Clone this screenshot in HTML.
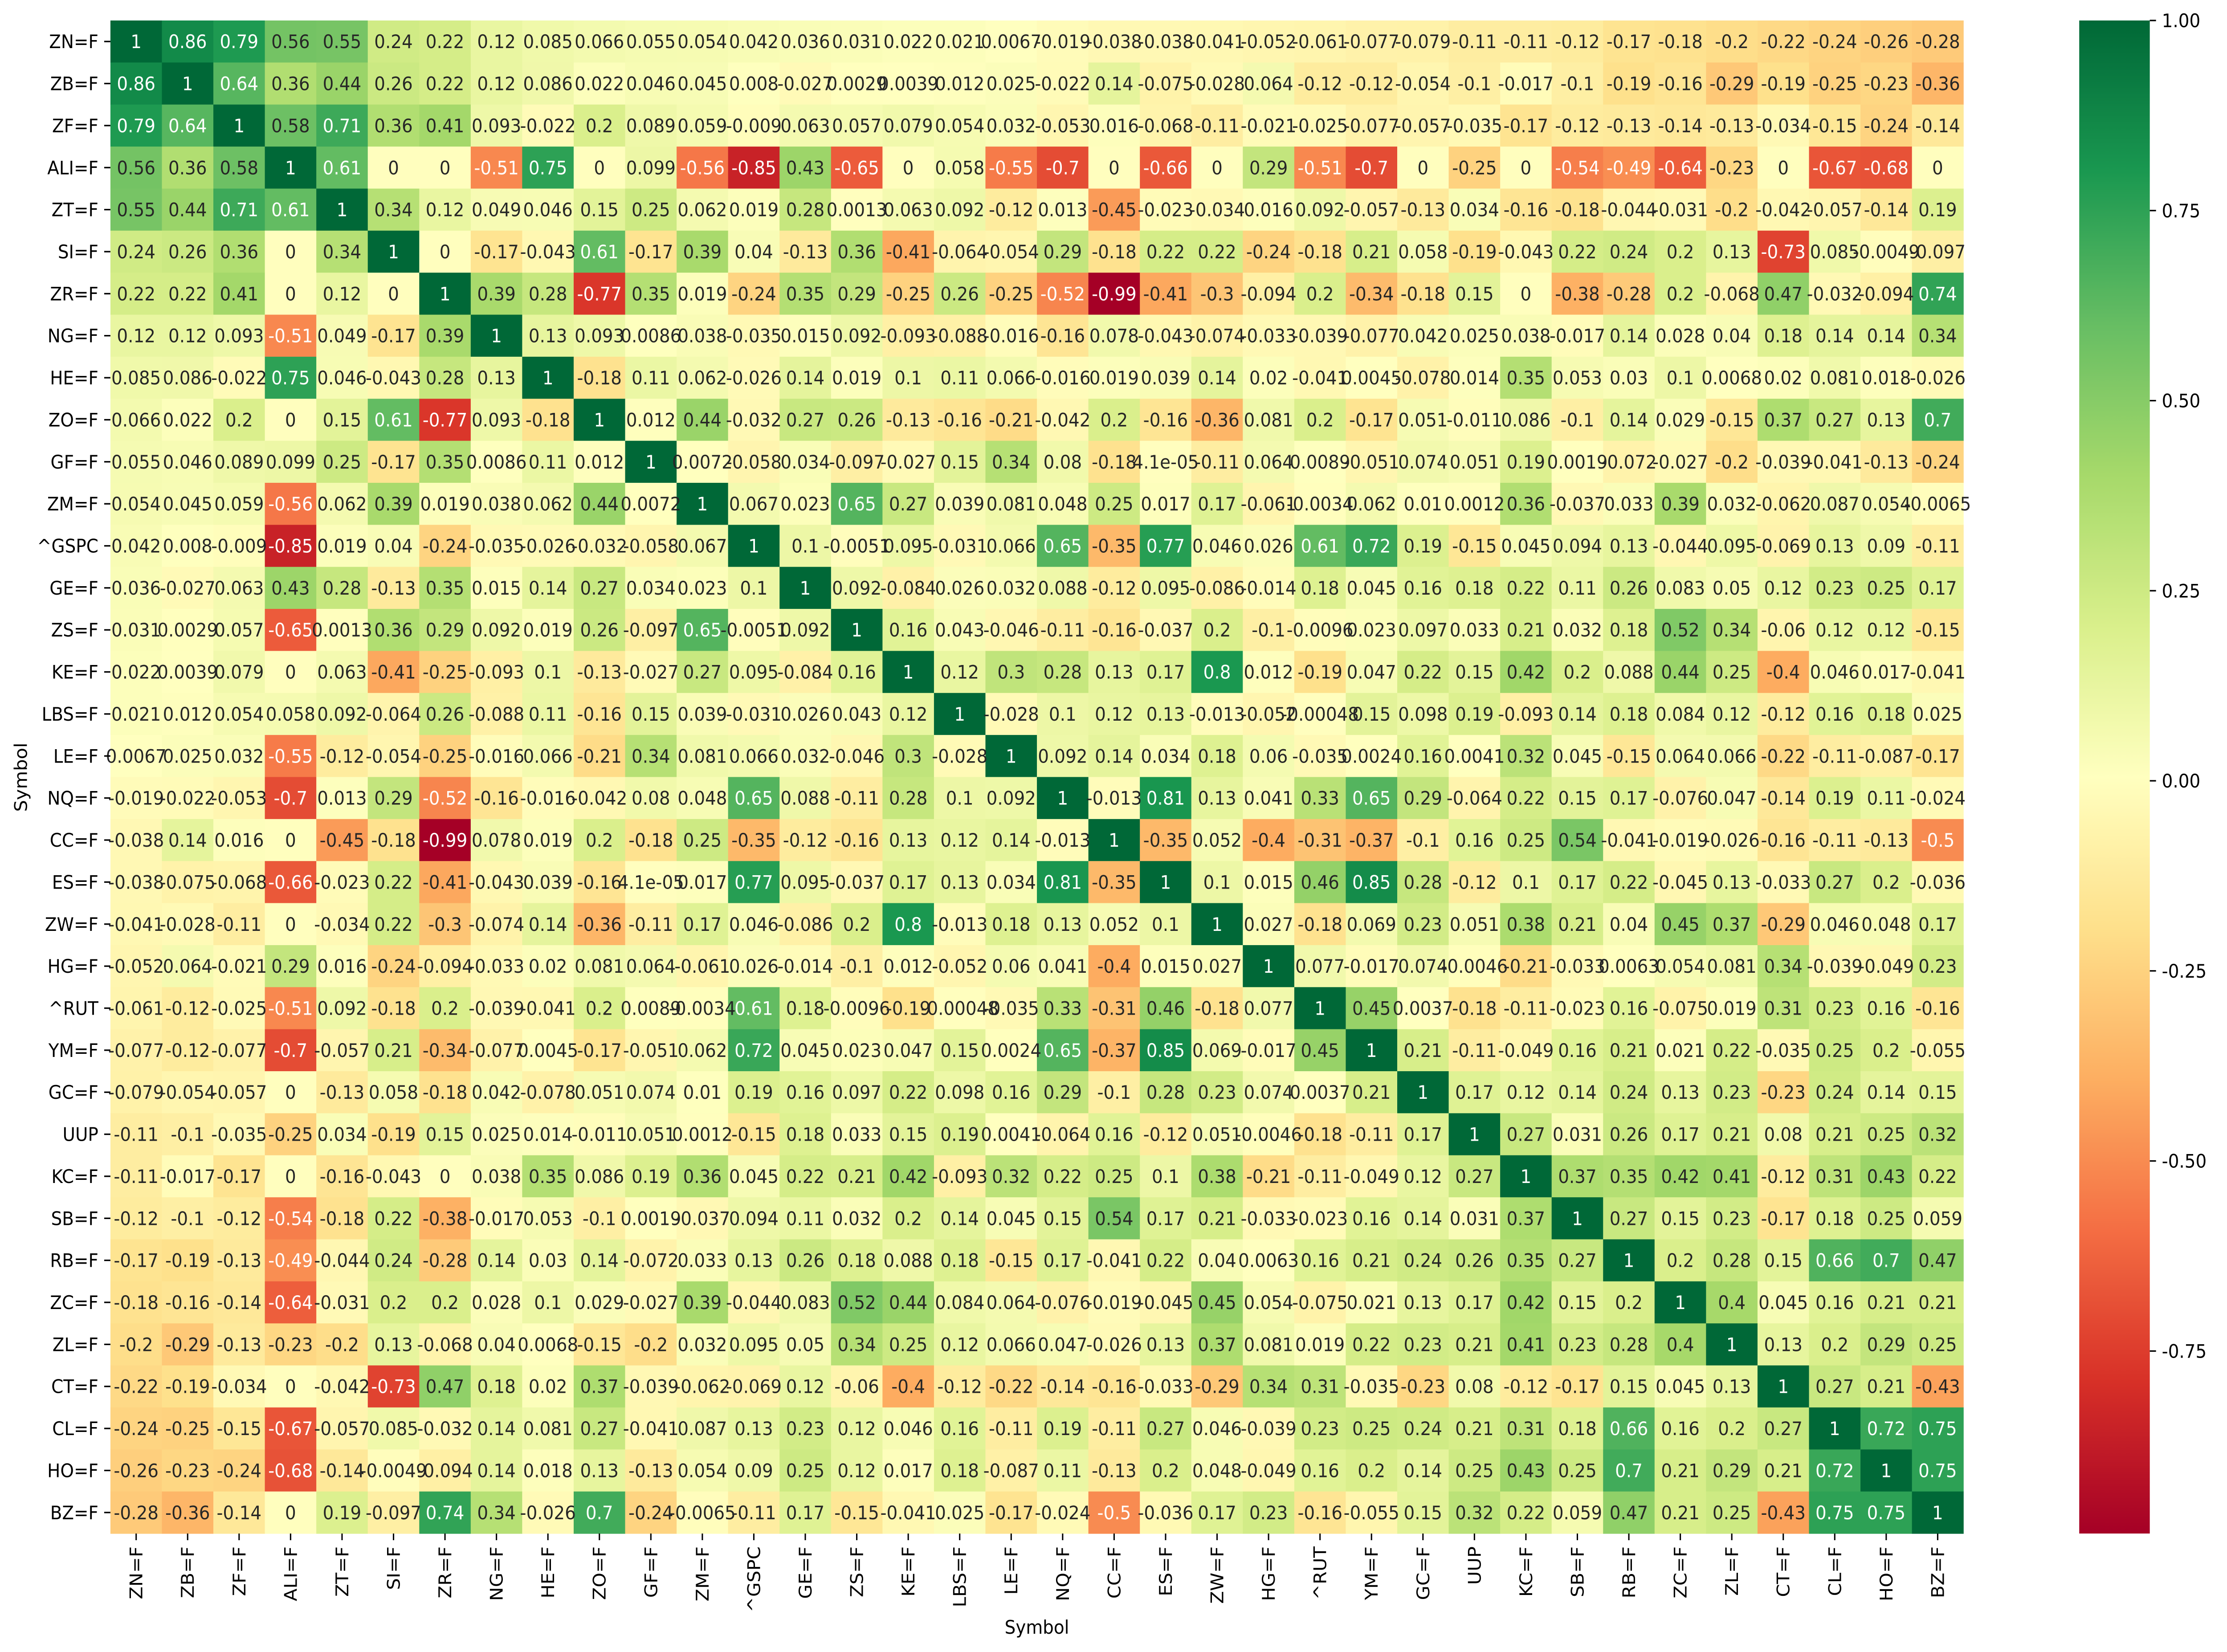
<!DOCTYPE html>
<html><head><meta charset="utf-8">
<style>
html,body{margin:0;padding:0;background:#fff;width:100%;height:100%;overflow:hidden;}
svg{display:block;position:absolute;left:0;top:0;width:100vw;height:100vh;font-family:"DejaVu Sans","Liberation Sans",sans-serif;}
</style></head>
<body>
<svg id="chart" viewBox="0 0 5365 3709" preserveAspectRatio="none" xmlns="http://www.w3.org/2000/svg">
<defs><linearGradient id="cbgrad" x1="0" y1="1" x2="0" y2="0"></linearGradient></defs>
<g id="cells"></g>
<g id="annots"></g>
<g id="yaxis"></g>
<g id="xaxis"></g>
<text x="0" y="0" transform="translate(51,1745) rotate(-90)" text-anchor="middle" dominant-baseline="central" font-size="41.7">Symbol</text>
<text x="2498" y="3668" text-anchor="middle" font-size="41.7">Symbol</text>
<g id="cbar"></g>
</svg>
<script>
const symbols = ["ZN=F","ZB=F","ZF=F","ALI=F","ZT=F","SI=F","ZR=F","NG=F","HE=F","ZO=F","GF=F","ZM=F","^GSPC","GE=F","ZS=F","KE=F","LBS=F","LE=F","NQ=F","CC=F","ES=F","ZW=F","HG=F","^RUT","YM=F","GC=F","UUP","KC=F","SB=F","RB=F","ZC=F","ZL=F","CT=F","CL=F","HO=F","BZ=F"];
// upper triangle rows, starting at the diagonal
const upperRows = [
[1,0.86,0.79,0.56,0.55,0.24,0.22,0.12,0.085,0.066,0.055,0.054,0.042,0.036,0.031,0.022,0.021,0.0067,-0.019,-0.038,-0.038,-0.041,-0.052,-0.061,-0.077,-0.079,-0.11,-0.11,-0.12,-0.17,-0.18,-0.2,-0.22,-0.24,-0.26,-0.28],
[1,0.64,0.36,0.44,0.26,0.22,0.12,0.086,0.022,0.046,0.045,0.008,-0.027,0.0029,0.0039,0.012,0.025,-0.022,0.14,-0.075,-0.028,0.064,-0.12,-0.12,-0.054,-0.1,-0.017,-0.1,-0.19,-0.16,-0.29,-0.19,-0.25,-0.23,-0.36],
[1,0.58,0.71,0.36,0.41,0.093,-0.022,0.2,0.089,0.059,-0.009,0.063,0.057,0.079,0.054,0.032,-0.053,0.016,-0.068,-0.11,-0.021,-0.025,-0.077,-0.057,-0.035,-0.17,-0.12,-0.13,-0.14,-0.13,-0.034,-0.15,-0.24,-0.14],
[1,0.61,0,0,-0.51,0.75,0,0.099,-0.56,-0.85,0.43,-0.65,0,0.058,-0.55,-0.7,0,-0.66,0,0.29,-0.51,-0.7,0,-0.25,0,-0.54,-0.49,-0.64,-0.23,0,-0.67,-0.68,0],
[1,0.34,0.12,0.049,0.046,0.15,0.25,0.062,0.019,0.28,0.0013,0.063,0.092,-0.12,0.013,-0.45,-0.023,-0.034,0.016,0.092,-0.057,-0.13,0.034,-0.16,-0.18,-0.044,-0.031,-0.2,-0.042,-0.057,-0.14,0.19],
[1,0,-0.17,-0.043,0.61,-0.17,0.39,0.04,-0.13,0.36,-0.41,-0.064,-0.054,0.29,-0.18,0.22,0.22,-0.24,-0.18,0.21,0.058,-0.19,-0.043,0.22,0.24,0.2,0.13,-0.73,0.085,-0.0049,-0.097],
[1,0.39,0.28,-0.77,0.35,0.019,-0.24,0.35,0.29,-0.25,0.26,-0.25,-0.52,-0.99,-0.41,-0.3,-0.094,0.2,-0.34,-0.18,0.15,0,-0.38,-0.28,0.2,-0.068,0.47,-0.032,-0.094,0.74],
[1,0.13,0.093,0.0086,0.038,-0.035,0.015,0.092,-0.093,-0.088,-0.016,-0.16,0.078,-0.043,-0.074,-0.033,-0.039,-0.077,0.042,0.025,0.038,-0.017,0.14,0.028,0.04,0.18,0.14,0.14,0.34],
[1,-0.18,0.11,0.062,-0.026,0.14,0.019,0.1,0.11,0.066,-0.016,0.019,0.039,0.14,0.02,-0.041,0.0045,-0.078,0.014,0.35,0.053,0.03,0.1,0.0068,0.02,0.081,0.018,-0.026],
[1,0.012,0.44,-0.032,0.27,0.26,-0.13,-0.16,-0.21,-0.042,0.2,-0.16,-0.36,0.081,0.2,-0.17,0.051,-0.011,0.086,-0.1,0.14,0.029,-0.15,0.37,0.27,0.13,0.7],
[1,0.0072,-0.058,0.034,-0.097,-0.027,0.15,0.34,0.08,-0.18,0.000041,-0.11,0.064,0.0089,-0.051,0.074,0.051,0.19,0.0019,-0.072,-0.027,-0.2,-0.039,-0.041,-0.13,-0.24],
[1,0.067,0.023,0.65,0.27,0.039,0.081,0.048,0.25,0.017,0.17,-0.061,-0.0034,0.062,0.01,0.0012,0.36,-0.037,0.033,0.39,0.032,-0.062,0.087,0.054,-0.0065],
[1,0.1,-0.0051,0.095,-0.031,0.066,0.65,-0.35,0.77,0.046,0.026,0.61,0.72,0.19,-0.15,0.045,0.094,0.13,-0.044,0.095,-0.069,0.13,0.09,-0.11],
[1,0.092,-0.084,0.026,0.032,0.088,-0.12,0.095,-0.086,-0.014,0.18,0.045,0.16,0.18,0.22,0.11,0.26,0.083,0.05,0.12,0.23,0.25,0.17],
[1,0.16,0.043,-0.046,-0.11,-0.16,-0.037,0.2,-0.1,-0.0096,0.023,0.097,0.033,0.21,0.032,0.18,0.52,0.34,-0.06,0.12,0.12,-0.15],
[1,0.12,0.3,0.28,0.13,0.17,0.8,0.012,-0.19,0.047,0.22,0.15,0.42,0.2,0.088,0.44,0.25,-0.4,0.046,0.017,-0.041],
[1,-0.028,0.1,0.12,0.13,-0.013,-0.052,-0.00048,0.15,0.098,0.19,-0.093,0.14,0.18,0.084,0.12,-0.12,0.16,0.18,0.025],
[1,0.092,0.14,0.034,0.18,0.06,-0.035,0.0024,0.16,0.0041,0.32,0.045,-0.15,0.064,0.066,-0.22,-0.11,-0.087,-0.17],
[1,-0.013,0.81,0.13,0.041,0.33,0.65,0.29,-0.064,0.22,0.15,0.17,-0.076,0.047,-0.14,0.19,0.11,-0.024],
[1,-0.35,0.052,-0.4,-0.31,-0.37,-0.1,0.16,0.25,0.54,-0.041,-0.019,-0.026,-0.16,-0.11,-0.13,-0.5],
[1,0.1,0.015,0.46,0.85,0.28,-0.12,0.1,0.17,0.22,-0.045,0.13,-0.033,0.27,0.2,-0.036],
[1,0.027,-0.18,0.069,0.23,0.051,0.38,0.21,0.04,0.45,0.37,-0.29,0.046,0.048,0.17],
[1,0.077,-0.017,0.074,-0.0046,-0.21,-0.033,0.0063,0.054,0.081,0.34,-0.039,-0.049,0.23],
[1,0.45,0.0037,-0.18,-0.11,-0.023,0.16,-0.075,0.019,0.31,0.23,0.16,-0.16],
[1,0.21,-0.11,-0.049,0.16,0.21,0.021,0.22,-0.035,0.25,0.2,-0.055],
[1,0.17,0.12,0.14,0.24,0.13,0.23,-0.23,0.24,0.14,0.15],
[1,0.27,0.031,0.26,0.17,0.21,0.08,0.21,0.25,0.32],
[1,0.37,0.35,0.42,0.41,-0.12,0.31,0.43,0.22],
[1,0.27,0.15,0.23,-0.17,0.18,0.25,0.059],
[1,0.2,0.28,0.15,0.66,0.7,0.47],
[1,0.4,0.045,0.16,0.21,0.21],
[1,0.13,0.2,0.29,0.25],
[1,0.27,0.21,-0.43],
[1,0.72,0.75],
[1,0.75],
[1]
];
const cbTicks = [1.0,0.75,0.5,0.25,0.0,-0.25,-0.5,-0.75];
const cbTickLabels = ["1.00","0.75","0.50","0.25","0.00","-0.25","-0.50","-0.75"];

const NS="http://www.w3.org/2000/svg";
const n=symbols.length;
const M=[];
for(let i=0;i<n;i++){M.push(new Array(n).fill(0));}
for(let i=0;i<n;i++){for(let k=0;k<upperRows[i].length;k++){const j=i+k;M[i][j]=upperRows[i][k];M[j][i]=upperRows[i][k];}}
let vmin=Infinity,vmax=-Infinity;
M.forEach(r=>r.forEach(v=>{if(v<vmin)vmin=v;if(v>vmax)vmax=v;}));

const L=266,T=46,R=4730,B=3443;
const cw=(R-L)/n, ch=(B-T)/n;
const xPos=j=>L+j*cw;
const yPos=i=>T+i*ch;

const anchors=["#a50026","#d73027","#f46d43","#fdae61","#fee08b","#ffffbf","#d9ef8b","#a6d96a","#66bd63","#1a9850","#006837"].map(h=>[parseInt(h.substr(1,2),16),parseInt(h.substr(3,2),16),parseInt(h.substr(5,2),16)]);
function cmap(t){t=Math.max(0,Math.min(1,t));const p=t*10;const k=Math.min(9,Math.floor(p));const f=p-k;const a=anchors[k],b=anchors[k+1];return [0,1,2].map(c=>Math.round(a[c]+(b[c]-a[c])*f));}
function norm(v){return (v-vmin)/(vmax-vmin);}
function rgb(c){return `rgb(${c[0]},${c[1]},${c[2]})`;}
function lum(c){const l=c.map(x=>{x/=255;return x<=0.03928?x/12.92:Math.pow((x+0.055)/1.055,2.4);});return 0.2126*l[0]+0.7152*l[1]+0.0722*l[2];}
function fmt(v){if(v===0)return "0";const a=Math.abs(v);if(a<1e-4){let e=Math.floor(Math.log10(a));let m=(v/Math.pow(10,e)).toPrecision(2);m=String(Number(m));return m+"e-"+String(-e).padStart(2,"0");}return String(Number(v.toPrecision(2)));}

const gc=document.getElementById("cells"),ga=document.getElementById("annots");
for(let i=0;i<n;i++){for(let j=0;j<n;j++){
  const v=M[i][j];const c=cmap(norm(v));
  const r=document.createElementNS(NS,"rect");
  r.setAttribute("x",xPos(j));r.setAttribute("y",yPos(i));
  r.setAttribute("width",cw+0.6);r.setAttribute("height",ch+0.6);
  r.setAttribute("fill",rgb(c));
  
  
  gc.appendChild(r);
  const t=document.createElementNS(NS,"text");
  t.setAttribute("x",xPos(j)+cw/2);t.setAttribute("y",yPos(i)+ch/2+15);
  t.setAttribute("text-anchor","middle");t.setAttribute("font-size","41.7");
  t.setAttribute("fill",lum(c)>0.408?"#262626":"#ffffff");
  t.textContent=fmt(v);
  
  
  ga.appendChild(t);
}}
const gy=document.getElementById("yaxis"),gx=document.getElementById("xaxis");
for(let i=0;i<n;i++){
  const cy=yPos(i)+ch/2;
  const tk=document.createElementNS(NS,"line");
  tk.setAttribute("x1",L-15);tk.setAttribute("x2",L);tk.setAttribute("y1",cy);tk.setAttribute("y2",cy);
  tk.setAttribute("stroke","#000");tk.setAttribute("stroke-width","3.3");
  
  
  gy.appendChild(tk);
  const t=document.createElementNS(NS,"text");
  t.setAttribute("x",L-29);t.setAttribute("y",cy+15);t.setAttribute("text-anchor","end");t.setAttribute("font-size","41.7");
  t.textContent=symbols[i];
  
  
  gy.appendChild(t);
}
for(let j=0;j<n;j++){
  const cx=xPos(j)+cw/2;
  const tk=document.createElementNS(NS,"line");
  tk.setAttribute("x1",cx);tk.setAttribute("x2",cx);tk.setAttribute("y1",B);tk.setAttribute("y2",B+15);
  tk.setAttribute("stroke","#000");tk.setAttribute("stroke-width","3.3");
  
  
  gx.appendChild(tk);
  const t=document.createElementNS(NS,"text");
  t.setAttribute("x",0);t.setAttribute("y",0);t.setAttribute("text-anchor","end");t.setAttribute("font-size","41.7");
  t.setAttribute("transform",`translate(${cx+15},${B+29}) rotate(-90)`);
  t.textContent=symbols[j];
  
  
  gx.appendChild(t);
}
// colorbar
const grad=document.getElementById("cbgrad");
for(let s=0;s<=100;s++){const st=document.createElementNS(NS,"stop");st.setAttribute("offset",(s/100));st.setAttribute("stop-color",rgb(cmap(s/100)));grad.appendChild(st);}
const gcb=document.getElementById("cbar");
const CBL=5009,CBR=5179;
const cbY=v=>B-(v-vmin)/(vmax-vmin)*(B-T);
const cbr=document.createElementNS(NS,"rect");
cbr.setAttribute("x",CBL);cbr.setAttribute("y",T);cbr.setAttribute("width",CBR-CBL);cbr.setAttribute("height",B-T);cbr.setAttribute("fill","url(#cbgrad)");


gcb.appendChild(cbr);
cbTicks.forEach((v,k)=>{
  const y=cbY(v);
  const tk=document.createElementNS(NS,"line");
  tk.setAttribute("x1",CBR);tk.setAttribute("x2",CBR+15);tk.setAttribute("y1",y);tk.setAttribute("y2",y);
  tk.setAttribute("stroke","#000");tk.setAttribute("stroke-width","3.3");
  
  
  gcb.appendChild(tk);
  const t=document.createElementNS(NS,"text");
  t.setAttribute("x",CBR+29);t.setAttribute("y",y+15);t.setAttribute("font-size","41.7");
  t.textContent=cbTickLabels[k];
  
  
  gcb.appendChild(t);
});
</script>
</body></html>
